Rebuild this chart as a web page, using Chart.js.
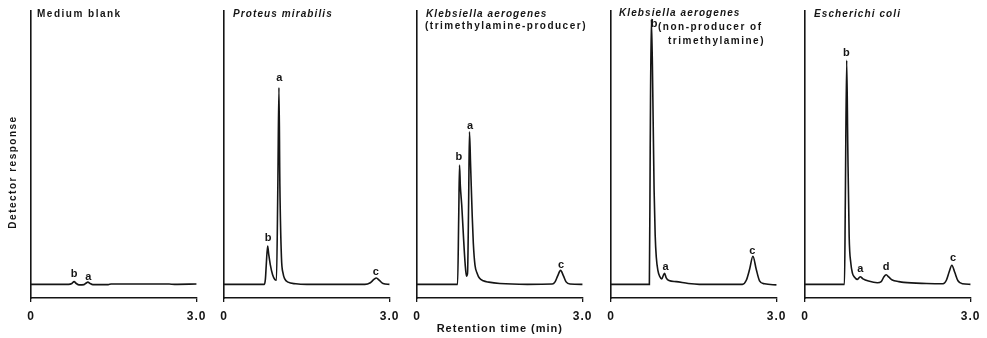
<!DOCTYPE html>
<html>
<head>
<meta charset="utf-8">
<script src="https://cdn.jsdelivr.net/npm/chart.js@4.4.1/dist/chart.umd.min.js"></script>
<style>
  html, body { margin: 0; padding: 0; background: #fff; }
  #figure { position: relative; width: 987px; height: 338px; overflow: hidden; }
  .panel { position: absolute; top: 0; height: 338px; }
</style>
</head>
<body>
<div id="figure"></div>
<script>
// Retention time (min) and detector response (arbitrary units)
const blankTime     = [0, 0.68, 0.74, 0.78, 0.82, 0.87, 0.96, 1.00, 1.03, 1.07, 1.12, 1.40, 1.45, 2.50, 2.60, 3.00];
const blankResponse = [0, 0, 0.3, 1.0, 0.3, -0.2, -0.1, 0.5, 0.8, 0.3, -0.1, -0.1, 0.1, 0.1, 0, 0.1];

const proteusTime     = [0, 0.73, 0.75, 0.765, 0.79, 0.81, 0.84, 0.88, 0.92, 0.95, 0.975, 0.995, 1.012, 1.04, 1.07, 1.10, 1.16, 1.30, 1.50, 2.55, 2.65, 2.71, 2.76, 2.81, 2.88, 3.00];
const proteusResponse = [0, 0, 2, 7, 14, 11, 7, 3.5, 1.8, 1.5, 36, 72, 36, 10, 4, 2, 0.8, 0.2, 0, 0, 0.6, 1.7, 2.3, 1.5, 0.3, 0];

const kaProTime     = [0, 0.735, 0.755, 0.77, 0.785, 0.81, 0.84, 0.87, 0.895, 0.915, 0.935, 0.95, 0.97, 1.00, 1.02, 1.05, 1.09, 1.13, 1.20, 1.30, 1.50, 2.00, 2.45, 2.50, 2.55, 2.60, 2.65, 2.70, 2.77, 3.00];
const kaProResponse = [0, 0, 24, 43.6, 36, 29, 18, 8, 3, 4, 30, 55.8, 44, 25, 15, 7, 4, 2.3, 1.3, 0.8, 0.3, 0, 0.1, 0.9, 3.2, 5.1, 3.2, 0.9, 0.1, 0];

const kaNonTime     = [0, 0.695, 0.71, 0.73, 0.75, 0.78, 0.80, 0.82, 0.85, 0.88, 0.92, 0.95, 0.97, 1.00, 1.05, 1.18, 1.40, 1.60, 2.38, 2.45, 2.51, 2.57, 2.63, 2.69, 2.78, 3.00];
const kaNonResponse = [0, 0, 50, 97, 80, 35, 18, 10, 5, 3, 2, 3.4, 4, 2.4, 1.4, 1, 0.3, 0, 0, 1.5, 5.5, 10.3, 5.5, 1.3, 0.2, -0.2];

const ecoliTime     = [0, 0.715, 0.73, 0.755, 0.775, 0.80, 0.83, 0.86, 0.89, 0.95, 1.00, 1.05, 1.15, 1.31, 1.38, 1.43, 1.47, 1.52, 1.58, 1.70, 1.79, 2.20, 2.50, 2.56, 2.61, 2.66, 2.71, 2.77, 2.85, 3.00];
const ecoliResponse = [0, 0, 30, 82, 50, 17.4, 7.7, 4, 2.8, 1.8, 2.8, 2, 1.2, 0.6, 1, 2.8, 3.5, 2.6, 1.6, 1, 0.7, 0.3, 0.2, 1.5, 4.5, 7, 4.5, 1.3, 0.2, 0];

// peak letters: name, retention time, height where the letter sits
const blankPeaks   = { names: ['b', 'a'], times: [0.78, 1.04], heights: [3.8, 2.8] };
const proteusPeaks = { names: ['b', 'a', 'c'], times: [0.80, 1.00, 2.75], heights: [17.1, 75.5, 4.6] };
const kaProPeaks   = { names: ['b', 'a', 'c'], times: [0.76, 0.96, 2.61], heights: [46.5, 57.9, 7.1] };
const kaNonPeaks   = { names: ['b', 'a', 'c'], times: [0.78, 0.99, 2.56], heights: [95.2, 6.4, 12.3] };
const ecoliPeaks   = { names: ['b', 'a', 'd', 'c'], times: [0.75, 1.00, 1.47, 2.68], heights: [84.5, 5.5, 6.4, 9.5] };

const xTickValues = [0, 3];
const xTickLabels = ['0', '3.0'];
const yRange = [-5, 100];

const INK = '#151515';
const FONT = '"Liberation Sans", Arial, Helvetica, sans-serif';

Chart.defaults.font.family = FONT;
Chart.defaults.color = INK;

const panels = [
  { axisX: 31, padL: 31, time: blankTime, response: blankResponse, peaks: blankPeaks,
    lines: [{ text: 'Medium blank', dx: 6, y: 17 }],
    yTitle: { text: 'Detector response', x: 13, y: 172 } },
  { axisX: 224, padL: 14, time: proteusTime, response: proteusResponse, peaks: proteusPeaks,
    lines: [{ text: 'Proteus mirabilis', dx: 9, y: 17, italic: true }] },
  { axisX: 417, padL: 14, time: kaProTime, response: kaProResponse, peaks: kaProPeaks,
    xTitle: 'Retention time (min)',
    lines: [{ text: 'Klebsiella aerogenes', dx: 9, y: 17, italic: true },
            { text: '(trimethylamine-producer)', dx: 8, y: 29 }] },
  { axisX: 611, padL: 14, time: kaNonTime, response: kaNonResponse, peaks: kaNonPeaks,
    lines: [{ text: 'Klebsiella aerogenes', dx: 8, y: 16, italic: true },
            { text: '(non-producer of', dx: 47, y: 30 },
            { text: 'trimethylamine)', dx: 57, y: 44 }] },
  { axisX: 805, padL: 14, time: ecoliTime, response: ecoliResponse, peaks: ecoliPeaks,
    lines: [{ text: 'Escherichi coli', dx: 9, y: 17, italic: true }] }
];

const PLOT_W = 167;
const PAD_R = 14;
const PLOT_TOP = 11;
const PLOT_BOTTOM = 298;
const PAD_B = 2;

const panelText = {
  id: 'panelText',
  beforeDraw(chart) {
    chart.ctx.letterSpacing = '1px';
  },
  afterDraw(chart, args, opts) {
    const ctx = chart.ctx;
    const xs = chart.scales.x, ys = chart.scales.y;
    const left = chart.chartArea.left;
    ctx.save();
    ctx.fillStyle = INK;
    ctx.textAlign = 'left';
    ctx.textBaseline = 'alphabetic';
    (opts.lines || []).forEach(l => {
      ctx.letterSpacing = l.italic ? '1.1px' : '1.5px';
      ctx.font = (l.italic ? 'italic ' : '') + 'bold 10px ' + FONT;
      ctx.fillText(l.text, left + l.dx, l.y);
    });
    if (opts.peaks) {
      const pk = opts.peaks;
      ctx.letterSpacing = '0px';
      ctx.font = 'bold 11px ' + FONT;
      ctx.textAlign = 'center';
      ctx.textBaseline = 'middle';
      pk.names.forEach((n, i) => {
        ctx.fillText(n, xs.getPixelForValue(pk.times[i]), ys.getPixelForValue(pk.heights[i]));
      });
    }
    if (opts.yTitle) {
      ctx.letterSpacing = '1.5px';
      ctx.translate(opts.yTitle.x, opts.yTitle.y);
      ctx.rotate(-Math.PI / 2);
      ctx.font = 'bold 10px ' + FONT;
      ctx.textAlign = 'center';
      ctx.textBaseline = 'middle';
      ctx.fillText(opts.yTitle.text, 0, 0);
    }
    ctx.restore();
  }
};

const figure = document.getElementById('figure');

panels.forEach(p => {
  const box = document.createElement('div');
  box.className = 'panel';
  box.style.left = (p.axisX - p.padL) + 'px';
  box.style.width = (PLOT_W + p.padL + PAD_R) + 'px';
  const canvas = document.createElement('canvas');
  box.appendChild(canvas);
  figure.appendChild(box);

  new Chart(canvas, {
    type: 'line',
    data: {
      datasets: [{
        data: p.time.map((t, i) => ({ x: t, y: p.response[i] })),
        borderColor: INK,
        borderWidth: 1.6,
        pointRadius: 0,
        cubicInterpolationMode: 'monotone',
        fill: false
      }]
    },
    options: {
      responsive: true,
      maintainAspectRatio: false,
      animation: false,
      layout: { padding: { left: p.padL, right: PAD_R, top: PLOT_TOP, bottom: PAD_B } },
      plugins: {
        legend: { display: false },
        tooltip: { enabled: false },
        panelText: { lines: p.lines, peaks: p.peaks, yTitle: p.yTitle }
      },
      scales: {
        x: {
          type: 'linear',
          min: 0,
          max: 3,
          afterBuildTicks: axis => { axis.ticks = xTickValues.map(v => ({ value: v })); },
          // keep every panel's time axis on the same line
          afterFit: axis => { axis.height = 338 - PAD_B - PLOT_BOTTOM; },
          ticks: {
            padding: 7,
            maxRotation: 0,
            font: { size: 12, weight: 'bold' },
            callback: v => xTickLabels[xTickValues.indexOf(v)]
          },
          grid: { drawOnChartArea: false, drawTicks: true, tickLength: 4, color: INK, lineWidth: 1.3 },
          border: { display: true, color: INK, width: 1.5 },
          title: {
            display: !!p.xTitle,
            text: p.xTitle || '',
            font: { size: 11, weight: 'bold' },
            padding: { top: 0, bottom: 0 }
          }
        },
        y: {
          min: yRange[0],
          max: yRange[1],
          ticks: { display: false },
          grid: { display: false, drawTicks: false },
          border: { display: true, color: INK, width: 1.6 }
        }
      }
    },
    plugins: [panelText]
  });
});
</script>
</body>
</html>
